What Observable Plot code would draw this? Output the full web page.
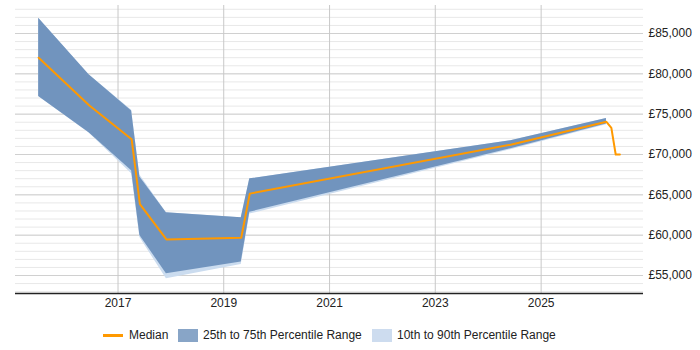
<!DOCTYPE html>
<html>
<head>
<meta charset="utf-8">
<script src="https://cdn.jsdelivr.net/npm/d3@7"></script>
<script src="https://cdn.jsdelivr.net/npm/@observablehq/plot@0.6"></script>
<style>
  html, body { margin: 0; padding: 0; background: #fff; }
  body { width: 700px; height: 350px; overflow: hidden; font-family: "Liberation Sans", Arial, sans-serif; }
  #legend { position: relative; width: 700px; height: 30px; font-size: 12px; color: #222; }
  .item { position: absolute; top: 0; height: 30px; display: flex; align-items: center; white-space: nowrap; }
  .line { display: inline-block; width: 20px; height: 3px; background: #ff9900; margin-right: 6px; }
  .sw { display: inline-block; width: 20px; height: 13px; margin-right: 5px; }
</style>
</head>
<body>
<div id="chart"></div>
<div id="legend">
  <div class="item" style="left:103px"><span class="line"></span>Median</div>
  <div class="item" style="left:178px"><span class="sw" style="background:#88a5c7"></span>25th to 75th Percentile Range</div>
  <div class="item" style="left:372px"><span class="sw" style="background:#cddcef"></span>10th to 90th Percentile Range</div>
</div>
<script>
// Percentile band snapshots
const bandDates = ["2015-07-03", "2016-06-15", "2017-04-05", "2017-06-01", "2017-12-01", "2019-05-02", "2019-06-30", "2024-06-05", "2026-03-28"];
const p10 = [77200, 72650, 67600, 59700, 54600, 56350, 62620, 70600, 73700];
const p25 = [77200, 72700, 68000, 59970, 55220, 56660, 62840, 70720, 73770];
const p75 = [86900, 79900, 75400, 67200, 62780, 62160, 66980, 71700, 74450];
const p90 = [86900, 79900, 75500, 67450, 62780, 62160, 66980, 71700, 74450];

// Median series
const medianDates = ["2015-07-03", "2016-06-15", "2017-04-05", "2017-06-01", "2017-12-01", "2019-05-02", "2019-06-30", "2024-06-05", "2026-03-28", "2026-05-01", "2026-05-31", "2026-06-29"];
const medianValues = [82000, 76100, 71900, 63850, 59470, 59680, 65150, 71220, 74050, 73310, 70000, 70000];

// Axis ticks
const xTickYears = ["2017", "2019", "2021", "2023", "2025"];
const yTicks = [55000, 60000, 65000, 70000, 75000, 80000, 85000];
const yMinorTicks = d3.range(53000, 89000, 1000);

const band = bandDates.map((d, i) => ({date: new Date(d), p10: p10[i], p25: p25[i], p75: p75[i], p90: p90[i]}));
const median = medianDates.map((d, i) => ({date: new Date(d), value: medianValues[i]}));
const xTicks = xTickYears.map(y => new Date(y + "-01-01"));
const yMin = 52770, yMax = 88470;

const chart = Plot.plot({
  width: 700,
  height: 320,
  marginLeft: 15,
  marginRight: 57,
  marginTop: 5,
  marginBottom: 27,
  style: {fontFamily: "'Liberation Sans', Arial, sans-serif", fontSize: "12px", color: "#222", background: "#fff"},
  x: {type: "utc", domain: [new Date("2015-01-24"), new Date("2026-12-09")]},
  y: {domain: [yMin, yMax]},
  marks: [
    Plot.gridY(yMinorTicks, {stroke: "#e8e8e8", strokeOpacity: 1}),
    Plot.gridY(yTicks, {stroke: "#d0d0d0", strokeOpacity: 1}),
    Plot.gridX(xTicks, {stroke: "#c8c8c8", strokeOpacity: 1}),
    Plot.areaY(band, {x: "date", y1: "p10", y2: "p90", fill: "#cbdcef", curve: "linear"}),
    Plot.areaY(band, {x: "date", y1: "p25", y2: "p75", fill: "#7194be", curve: "linear"}),
    Plot.line(median, {x: "date", y: "value", stroke: "#ff9900", strokeWidth: 2}),
    Plot.ruleY([yMin], {stroke: "#222", strokeWidth: 1.5}),
    Plot.axisY(yTicks, {anchor: "right", tickSize: 0, tickPadding: 5, label: null, tickFormat: d => "£" + d3.format(",")(d)}),
    Plot.axisX(xTicks, {anchor: "bottom", tickSize: 0, tickPadding: 5, label: null, tickFormat: d3.utcFormat("%Y")})
  ]
});
document.getElementById("chart").appendChild(chart);
</script>
</body>
</html>
